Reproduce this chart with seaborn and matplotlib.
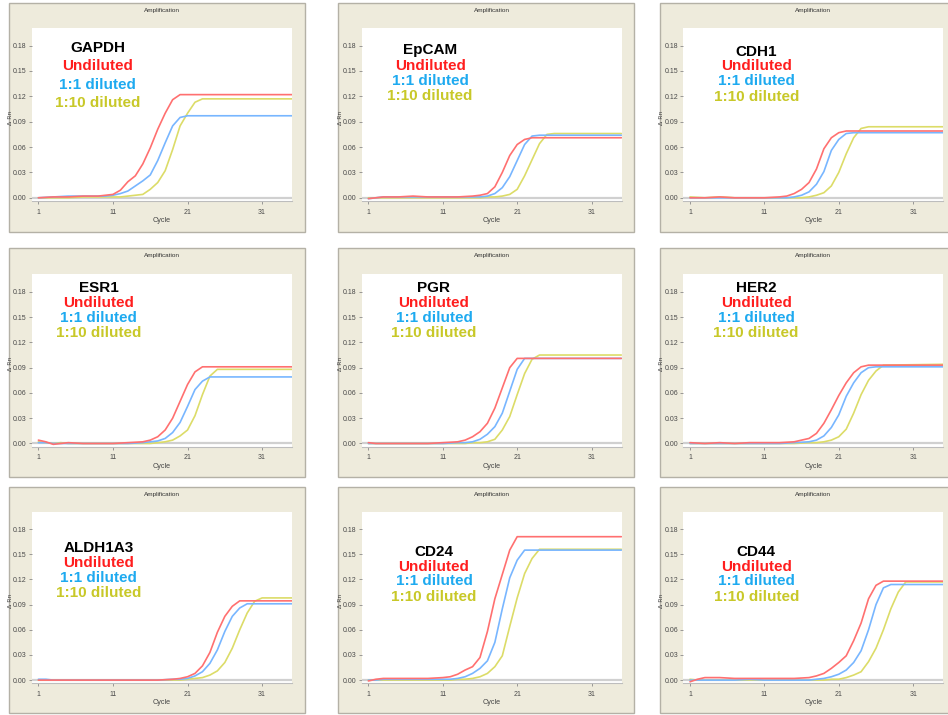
import matplotlib
matplotlib.use("Agg")
import matplotlib.pyplot as plt
from matplotlib.patches import Rectangle
import pandas as pd
import seaborn as sns

# ---------------- data ----------------
GENES = ["GAPDH", "EpCAM", "CDH1", "ESR1", "PGR", "HER2", "ALDH1A3", "CD24", "CD44"]
DILUTIONS = ["Undiluted", "1:1 diluted", "1:10 diluted"]
X_TICKS = [1, 11, 21, 31]
Y_TICKS = [0.00, 0.03, 0.06, 0.09, 0.12, 0.15, 0.18]

GAPDH_CYCLES = [1, 3, 5, 7, 9, 10, 11, 12, 13, 14, 15, 16, 17, 18, 19, 20, 21, 22, 23, 35]
GAPDH_UND = [0.000, 0.001, 0.001, 0.002, 0.002, 0.003, 0.004, 0.009, 0.019, 0.026, 0.040, 0.059, 0.081, 0.100, 0.116, 0.122, 0.122, 0.122, 0.122, 0.122]
GAPDH_D1 = [0.000, 0.001, 0.002, 0.002, 0.002, 0.002, 0.003, 0.005, 0.008, 0.014, 0.020, 0.027, 0.044, 0.065, 0.085, 0.095, 0.097, 0.097, 0.097, 0.097]
GAPDH_D10 = [0.000, 0.000, 0.000, 0.001, 0.001, 0.001, 0.001, 0.001, 0.002, 0.003, 0.004, 0.010, 0.018, 0.032, 0.057, 0.085, 0.100, 0.113, 0.117, 0.117]

EPCAM_CYCLES = [1, 3, 5, 7, 9, 11, 13, 15, 16, 17, 18, 19, 20, 21, 22, 23, 24, 25, 26, 35]
EPCAM_UND = [-0.001, 0.001, 0.001, 0.002, 0.001, 0.001, 0.001, 0.002, 0.003, 0.005, 0.013, 0.030, 0.050, 0.063, 0.069, 0.071, 0.071, 0.071, 0.071, 0.071]
EPCAM_D1 = [-0.001, 0.001, 0.001, 0.001, 0.001, 0.001, 0.001, 0.001, 0.001, 0.002, 0.005, 0.012, 0.025, 0.044, 0.063, 0.073, 0.074, 0.074, 0.074, 0.074]
EPCAM_D10 = [0.000, 0.000, 0.000, 0.000, 0.000, 0.000, 0.000, 0.000, 0.000, 0.001, 0.001, 0.002, 0.004, 0.010, 0.026, 0.045, 0.064, 0.075, 0.076, 0.076]

CDH1_CYCLES = [1, 3, 5, 7, 9, 11, 13, 14, 15, 16, 17, 18, 19, 20, 21, 22, 23, 24, 25, 35]
CDH1_UND = [0.000, 0.000, 0.001, 0.000, 0.000, 0.000, 0.001, 0.002, 0.005, 0.010, 0.018, 0.034, 0.058, 0.071, 0.077, 0.079, 0.079, 0.079, 0.079, 0.079]
CDH1_D1 = [0.000, 0.000, 0.000, 0.000, 0.000, 0.000, 0.000, 0.000, 0.001, 0.003, 0.007, 0.016, 0.031, 0.056, 0.069, 0.076, 0.077, 0.077, 0.077, 0.077]
CDH1_D10 = [0.001, 0.000, 0.001, 0.000, 0.000, 0.000, 0.000, 0.000, 0.000, 0.000, 0.001, 0.003, 0.006, 0.014, 0.030, 0.052, 0.071, 0.082, 0.084, 0.084]

ESR1_CYCLES = [1, 2, 3, 4, 5, 7, 9, 11, 13, 15, 16, 17, 18, 19, 20, 21, 22, 23, 24, 25, 35]
ESR1_UND = [0.004, 0.002, -0.001, 0.000, 0.001, 0.000, 0.000, 0.000, 0.001, 0.002, 0.004, 0.008, 0.016, 0.030, 0.050, 0.070, 0.085, 0.091, 0.091, 0.091, 0.091]
ESR1_D1 = [0.001, 0.001, 0.000, 0.000, 0.000, 0.000, 0.000, 0.000, 0.000, 0.001, 0.002, 0.003, 0.006, 0.013, 0.025, 0.044, 0.064, 0.074, 0.079, 0.079, 0.079]
ESR1_D10 = [0.002, 0.001, 0.000, 0.001, 0.000, 0.000, 0.000, 0.000, 0.000, 0.000, 0.000, 0.001, 0.002, 0.004, 0.009, 0.016, 0.033, 0.058, 0.080, 0.088, 0.088]

PGR_CYCLES = [1, 2, 3, 5, 7, 9, 11, 13, 14, 15, 16, 17, 18, 19, 20, 21, 22, 23, 24, 35]
PGR_UND = [0.001, 0.000, 0.000, 0.000, 0.000, 0.000, 0.001, 0.002, 0.004, 0.008, 0.014, 0.024, 0.042, 0.066, 0.090, 0.101, 0.101, 0.101, 0.101, 0.101]
PGR_D1 = [0.000, 0.000, 0.000, 0.000, 0.000, 0.000, 0.000, 0.001, 0.001, 0.002, 0.005, 0.011, 0.020, 0.036, 0.062, 0.088, 0.101, 0.101, 0.101, 0.101]
PGR_D10 = [0.000, 0.000, 0.000, 0.000, 0.000, 0.000, 0.000, 0.000, 0.000, 0.001, 0.001, 0.002, 0.005, 0.016, 0.032, 0.058, 0.083, 0.100, 0.105, 0.105]

HER2_CYCLES = [1, 3, 5, 7, 9, 11, 13, 15, 17, 18, 19, 20, 21, 22, 23, 24, 25, 26, 27, 35]
HER2_UND = [0.001, 0.000, 0.001, 0.000, 0.001, 0.001, 0.001, 0.002, 0.006, 0.012, 0.024, 0.040, 0.057, 0.072, 0.084, 0.091, 0.093, 0.093, 0.093, 0.093]
HER2_D1 = [0.000, 0.000, 0.000, 0.000, 0.000, 0.000, 0.000, 0.001, 0.002, 0.004, 0.009, 0.019, 0.034, 0.056, 0.072, 0.084, 0.090, 0.091, 0.091, 0.091]
HER2_D10 = [0.000, 0.000, 0.000, 0.000, 0.000, 0.000, 0.000, 0.000, 0.001, 0.001, 0.002, 0.004, 0.008, 0.017, 0.036, 0.058, 0.075, 0.086, 0.093, 0.094]

ALDH1A3_CYCLES = [1, 2, 3, 5, 9, 13, 17, 19, 20, 21, 22, 23, 24, 25, 26, 27, 28, 29, 30, 31, 35]
ALDH1A3_UND = [0.000, 0.000, 0.000, 0.000, 0.000, 0.000, 0.000, 0.001, 0.002, 0.004, 0.008, 0.017, 0.033, 0.057, 0.076, 0.088, 0.0945, 0.0945, 0.0945, 0.0945, 0.0945]
ALDH1A3_D1 = [0.001, 0.001, 0.000, 0.000, 0.000, 0.000, 0.000, 0.001, 0.001, 0.002, 0.005, 0.010, 0.020, 0.036, 0.058, 0.076, 0.086, 0.091, 0.091, 0.091, 0.091]
ALDH1A3_D10 = [0.000, 0.000, 0.000, 0.000, 0.000, 0.000, 0.000, 0.000, 0.000, 0.001, 0.002, 0.003, 0.006, 0.011, 0.021, 0.038, 0.060, 0.080, 0.094, 0.098, 0.098]

CD24_CYCLES = [1, 2, 3, 5, 7, 9, 11, 12, 13, 14, 15, 16, 17, 18, 19, 20, 21, 22, 23, 24, 35]
CD24_UND = [-0.001, 0.001, 0.002, 0.002, 0.002, 0.002, 0.003, 0.004, 0.007, 0.012, 0.016, 0.027, 0.058, 0.097, 0.126, 0.155, 0.171, 0.171, 0.171, 0.171, 0.171]
CD24_D1 = [0.000, 0.000, 0.001, 0.001, 0.001, 0.001, 0.001, 0.001, 0.002, 0.004, 0.008, 0.014, 0.023, 0.045, 0.085, 0.122, 0.143, 0.155, 0.155, 0.155, 0.155]
CD24_D10 = [0.000, 0.000, 0.000, 0.000, 0.000, 0.000, 0.000, 0.000, 0.001, 0.001, 0.002, 0.004, 0.008, 0.016, 0.029, 0.064, 0.098, 0.127, 0.145, 0.156, 0.156]

CD44_CYCLES = [1, 2, 3, 5, 7, 9, 11, 13, 15, 17, 18, 19, 20, 21, 22, 23, 24, 25, 26, 27, 28, 29, 30, 35]
CD44_UND = [-0.002, 0.001, 0.003, 0.003, 0.002, 0.002, 0.002, 0.002, 0.002, 0.003, 0.005, 0.008, 0.014, 0.021, 0.029, 0.047, 0.068, 0.097, 0.113, 0.118, 0.118, 0.118, 0.118, 0.118]
CD44_D1 = [0.000, 0.000, 0.000, 0.000, 0.000, 0.001, 0.000, 0.000, 0.000, 0.000, 0.001, 0.002, 0.004, 0.007, 0.012, 0.021, 0.035, 0.060, 0.090, 0.110, 0.114, 0.114, 0.114, 0.114]
CD44_D10 = [0.001, 0.000, 0.000, 0.000, 0.000, 0.000, 0.000, 0.000, 0.000, 0.000, 0.000, 0.000, 0.001, 0.001, 0.003, 0.006, 0.010, 0.022, 0.038, 0.060, 0.085, 0.105, 0.117, 0.117]

PANEL_DATA = [
    (GAPDH_CYCLES, GAPDH_UND, GAPDH_D1, GAPDH_D10),
    (EPCAM_CYCLES, EPCAM_UND, EPCAM_D1, EPCAM_D10),
    (CDH1_CYCLES, CDH1_UND, CDH1_D1, CDH1_D10),
    (ESR1_CYCLES, ESR1_UND, ESR1_D1, ESR1_D10),
    (PGR_CYCLES, PGR_UND, PGR_D1, PGR_D10),
    (HER2_CYCLES, HER2_UND, HER2_D1, HER2_D10),
    (ALDH1A3_CYCLES, ALDH1A3_UND, ALDH1A3_D1, ALDH1A3_D10),
    (CD24_CYCLES, CD24_UND, CD24_D1, CD24_D10),
    (CD44_CYCLES, CD44_UND, CD44_D1, CD44_D10),
]

# ---------------- styling / layout ----------------
LINE_COLORS = {"Undiluted": "#ff7070", "1:1 diluted": "#78b6ff", "1:10 diluted": "#dcdc68"}
TEXT_COLORS = ["#000000", "#ff1e1e", "#1eaaf0", "#c8c828"]
BEIGE = "#eeebdc"

sns.set_style("white")
plt.rcParams["font.family"] = ["Liberation Sans", "DejaVu Sans"]

W, H = 948, 715
fig = plt.figure(figsize=(W / 100, H / 100), dpi=100)
fig.patch.set_facecolor("white")

FRAME_X = [(9, 305), (338, 634), (660, 950)]
FRAME_Y = [(3, 232), (248, 477), (487, 713)]
PLOT_X = [(31.7, 292.3), (361.7, 621.7), (683.3, 943.3)]
PLOT_Y = [(28, 201), (274.3, 446.7), (511.7, 683.3)]

# label text anchor (axes fraction): x, then y of 4 lines
TEXT_X = [0.254, 0.263, 0.282, 0.258, 0.278, 0.280, 0.258, 0.278, 0.281]
TEXT_Y = [
    [0.884, 0.780, 0.671, 0.566],
    [0.874, 0.782, 0.695, 0.608],
    [0.864, 0.782, 0.695, 0.604],
    [0.919, 0.832, 0.745, 0.658],
    [0.919, 0.832, 0.745, 0.658],
    [0.919, 0.832, 0.745, 0.658],
    [0.787, 0.703, 0.615, 0.524],
    [0.767, 0.680, 0.596, 0.505],
    [0.767, 0.680, 0.596, 0.505],
]


def fx(px):
    return px / W


def fy(py):
    return 1 - py / H


for i, gene in enumerate(GENES):
    r, c = divmod(i, 3)
    fx0, fx1 = FRAME_X[c]
    fy0, fy1 = FRAME_Y[r]
    rect = Rectangle((fx(fx0), fy(fy1)), fx(fx1 - fx0), (fy1 - fy0) / H,
                     transform=fig.transFigure, facecolor=BEIGE,
                     edgecolor="#b4b1a6", linewidth=1.0, zorder=-5)
    fig.patches.append(rect)
    px0, px1 = PLOT_X[c]
    py0, py1 = PLOT_Y[r]
    ax = fig.add_axes([fx(px0), fy(py1), fx(px1 - px0), (py1 - py0) / H])
    ax.set_zorder(2)
    ax.set_facecolor("white")

    cycles, und, d1, d10 = PANEL_DATA[i]
    frames = []
    for name, vals in zip(DILUTIONS, (und, d1, d10)):
        frames.append(pd.DataFrame({"Cycle": cycles, "dRn": vals, "Dilution": name}))
    df = pd.concat(frames, ignore_index=True)

    ax.axhline(0, color="#d0d0d0", linewidth=1.6, zorder=1)
    sns.lineplot(data=df, x="Cycle", y="dRn", hue="Dilution",
                 hue_order=["1:10 diluted", "1:1 diluted", "Undiluted"],
                 palette=LINE_COLORS, estimator=None, legend=False,
                 linewidth=1.2, ax=ax, zorder=3)

    ax.set_xlim(0.1, 35.05)
    ax.set_ylim(-0.0038, 0.2008)
    ax.set_xticks(X_TICKS)
    ax.set_xticklabels([str(t) for t in X_TICKS])
    ax.set_yticks(Y_TICKS)
    ax.set_yticklabels([f"{t:.2f}" for t in Y_TICKS])
    ax.tick_params(axis="both", which="major", labelsize=5, length=2.5, width=0.6,
                   color="#8a8a8a", labelcolor="#4a4a4a", direction="out",
                   bottom=True, left=True)
    ax.tick_params(axis="x", pad=3)
    ax.tick_params(axis="y", pad=1.2)
    ax.set_xlabel("")
    ax.set_ylabel("")
    for side in ("top", "right", "left"):
        ax.spines[side].set_visible(False)
    ax.spines["bottom"].set_color("#bdbdbd")
    ax.spines["bottom"].set_linewidth(0.8)
    ax.grid(False)

    # frame texts
    cx = (px0 + px1) / 2
    fig.text(fx(cx), fy(fy0 + 7.5), "Amplification", ha="center", va="center",
             fontsize=4.6, color="#333333", zorder=3)
    fig.text(fx(cx), fy(py1 + 19.5), "Cycle", ha="center", va="center",
             fontsize=5.2, color="#444444", zorder=3)
    fig.text(fx(px0 - 21.5), fy((py0 + py1) / 2 + 3), "\u0394 Rn", ha="center",
             va="center", rotation=90, fontsize=4.4, color="#444444",
             family=["DejaVu Sans"], zorder=3)

    labels = [gene] + DILUTIONS
    for j, (txt, col) in enumerate(zip(labels, TEXT_COLORS)):
        ax.text(TEXT_X[i], TEXT_Y[i][j], txt, transform=ax.transAxes,
                ha="center", va="center", fontsize=11, fontweight="bold",
                color=col, zorder=5)

fig.savefig("out.png", dpi=100, facecolor="white")
